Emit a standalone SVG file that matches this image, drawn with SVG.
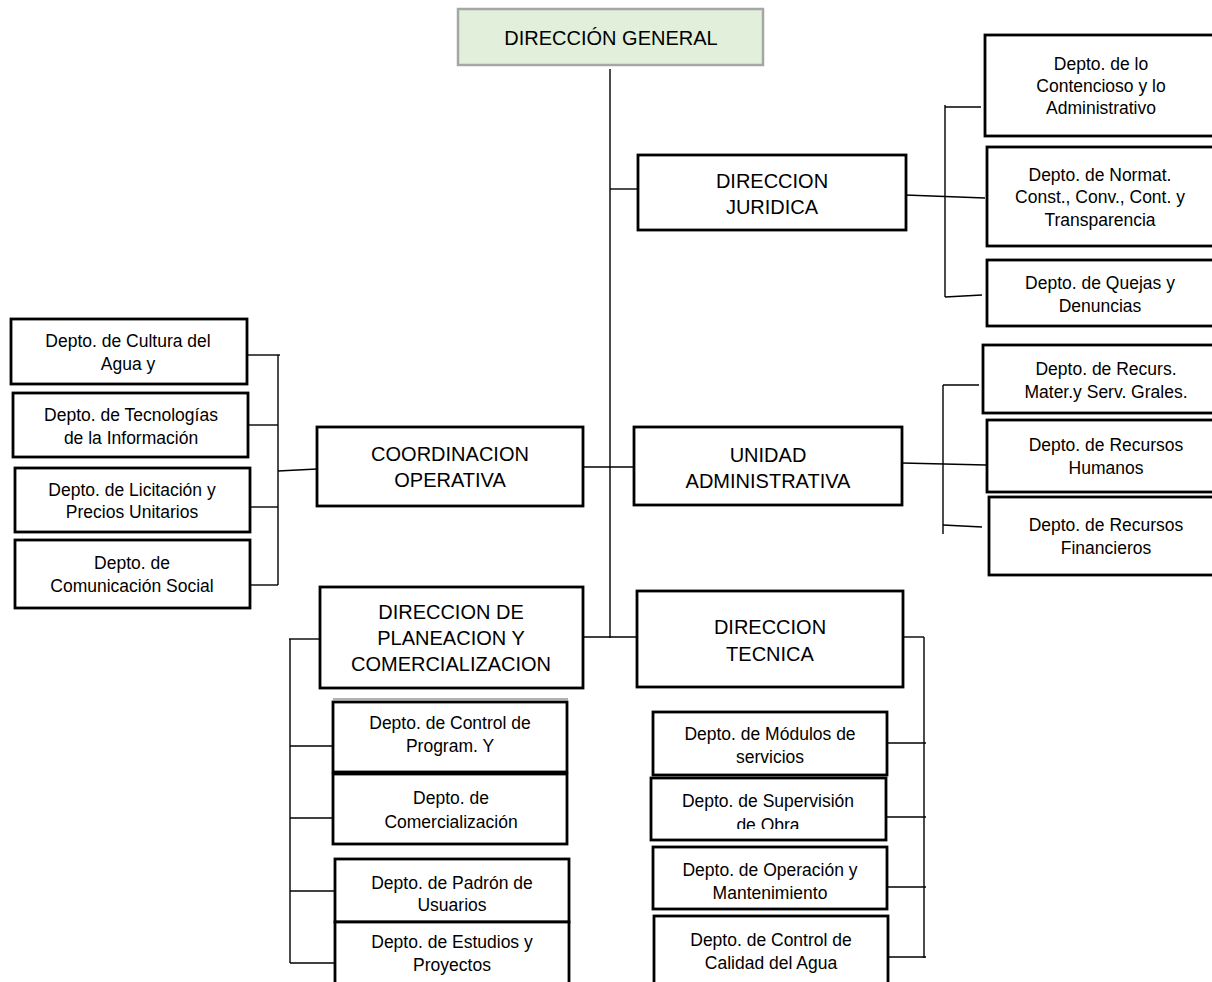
<svg xmlns="http://www.w3.org/2000/svg" width="1212" height="982" viewBox="0 0 1212 982">
<style>
.b{fill:#fff;stroke:#000;stroke-width:2.8}
.g{fill:#e2efda;stroke:#a6a6a6;stroke-width:2.5}
.t{font-family:"Liberation Sans",Arial,sans-serif;font-size:17.5px;fill:#000;text-anchor:middle}
.h{font-family:"Liberation Sans",Arial,sans-serif;font-size:20px;fill:#000;text-anchor:middle}
.c line{stroke:#000;stroke-width:1.4}
</style>
<defs>
<clipPath id="clipSup"><rect x="651" y="778" width="236" height="51"/></clipPath>
</defs>
<rect width="1212" height="982" fill="#fff"/>
<g class="c" id="connectors">
<line x1="610" y1="69" x2="610" y2="638"/>
<line x1="610" y1="189" x2="638" y2="189"/>
<line x1="582" y1="467" x2="634" y2="467"/>
<line x1="582" y1="637" x2="637" y2="637"/>
<line x1="905" y1="195" x2="985" y2="198"/>
<line x1="945" y1="105" x2="945" y2="297"/>
<line x1="945" y1="107" x2="981" y2="107"/>
<line x1="945" y1="297" x2="982" y2="295"/>
<line x1="902" y1="463" x2="986" y2="465"/>
<line x1="943" y1="385" x2="943" y2="534"/>
<line x1="943" y1="385" x2="979" y2="385"/>
<line x1="943" y1="525" x2="982" y2="527"/>
<line x1="903" y1="637" x2="924" y2="637"/>
<line x1="924" y1="637" x2="924" y2="958"/>
<line x1="888" y1="743" x2="926" y2="743"/>
<line x1="887" y1="817" x2="926" y2="817"/>
<line x1="888" y1="887" x2="926" y2="887"/>
<line x1="888" y1="957" x2="926" y2="957"/>
<line x1="320" y1="639" x2="289" y2="639"/>
<line x1="290" y1="639" x2="290" y2="963"/>
<line x1="290" y1="746" x2="333" y2="746"/>
<line x1="290" y1="818" x2="333" y2="818"/>
<line x1="290" y1="891" x2="338" y2="891"/>
<line x1="290" y1="963" x2="335" y2="963"/>
<line x1="317" y1="469" x2="278" y2="471"/>
<line x1="278" y1="355" x2="278" y2="585"/>
<line x1="248" y1="355" x2="280" y2="355"/>
<line x1="248" y1="425" x2="278" y2="425"/>
<line x1="250" y1="507" x2="278" y2="507"/>
<line x1="250" y1="585" x2="278" y2="585"/>
<line x1="333" y1="699" x2="568" y2="699" style="stroke:#999;stroke-width:1.5"/>
</g>
<g id="dir-general"><rect class="g" x="458" y="9" width="305" height="56"/><text class="h" x="611" y="45">DIRECCIÓN GENERAL</text></g>
<g id="dir-juridica"><rect class="b" x="638" y="155" width="268" height="75"/><text class="h" x="772" y="188">DIRECCION</text><text class="h" x="772" y="214">JURIDICA</text></g>
<g id="contencioso"><rect class="b" x="985" y="35" width="240" height="101"/><text class="t" x="1101" y="70">Depto. de lo</text><text class="t" x="1101" y="92">Contencioso y lo</text><text class="t" x="1101" y="114">Administrativo</text></g>
<g id="normat"><rect class="b" x="987" y="147" width="240" height="99"/><text class="t" x="1100" y="181">Depto. de Normat.</text><text class="t" x="1100" y="203">Const., Conv., Cont. y</text><text class="t" x="1100" y="226">Transparencia</text></g>
<g id="quejas"><rect class="b" x="987" y="260" width="240" height="66"/><text class="t" x="1100" y="289">Depto. de Quejas y</text><text class="t" x="1100" y="312">Denuncias</text></g>
<g id="unidad-admin"><rect class="b" x="634" y="427" width="268" height="78"/><text class="h" x="768" y="462">UNIDAD</text><text class="h" x="768" y="488">ADMINISTRATIVA</text></g>
<g id="recurs-mater"><rect class="b" x="983" y="345" width="240" height="68"/><text class="t" x="1106" y="375">Depto. de Recurs.</text><text class="t" x="1106" y="398">Mater.y Serv. Grales.</text></g>
<g id="rh"><rect class="b" x="987" y="420" width="240" height="72"/><text class="t" x="1106" y="451">Depto. de Recursos</text><text class="t" x="1106" y="474">Humanos</text></g>
<g id="rf"><rect class="b" x="989" y="497" width="240" height="78"/><text class="t" x="1106" y="531">Depto. de Recursos</text><text class="t" x="1106" y="554">Financieros</text></g>
<g id="coord-op"><rect class="b" x="317" y="427" width="266" height="79"/><text class="h" x="450" y="461">COORDINACION</text><text class="h" x="450" y="487">OPERATIVA</text></g>
<g id="cultura"><rect class="b" x="11" y="319" width="236" height="65"/><text class="t" x="128" y="347">Depto. de Cultura del</text><text class="t" x="128" y="370">Agua y</text></g>
<g id="tecnologias"><rect class="b" x="13" y="393" width="235" height="64"/><text class="t" x="131" y="421">Depto. de Tecnologías</text><text class="t" x="131" y="444">de la Información</text></g>
<g id="licitacion"><rect class="b" x="15" y="468" width="235" height="64"/><text class="t" x="132" y="496">Depto. de Licitación y</text><text class="t" x="132" y="518">Precios Unitarios</text></g>
<g id="comunicacion"><rect class="b" x="15" y="540" width="235" height="68"/><text class="t" x="132" y="569">Depto. de</text><text class="t" x="132" y="592">Comunicación Social</text></g>
<g id="dir-planeacion"><rect class="b" x="320" y="587" width="263" height="101"/><text class="h" x="451" y="619">DIRECCION DE</text><text class="h" x="451" y="645">PLANEACION Y</text><text class="h" x="451" y="671">COMERCIALIZACION</text></g>
<g id="control-program"><rect class="b" x="333" y="702" width="234" height="70"/><text class="t" x="450" y="729">Depto. de Control de</text><text class="t" x="450" y="752">Program. Y</text></g>
<g id="comercializacion"><rect class="b" x="333" y="774" width="234" height="70"/><text class="t" x="451" y="804">Depto. de</text><text class="t" x="451" y="828">Comercialización</text></g>
<g id="padron"><rect class="b" x="335" y="859" width="234" height="63"/><text class="t" x="452" y="889">Depto. de Padrón de</text><text class="t" x="452" y="911">Usuarios</text></g>
<g id="estudios"><rect class="b" x="335" y="922" width="234" height="80"/><text class="t" x="452" y="948">Depto. de Estudios y</text><text class="t" x="452" y="971">Proyectos</text></g>
<g id="dir-tecnica"><rect class="b" x="637" y="591" width="266" height="96"/><text class="h" x="770" y="634">DIRECCION</text><text class="h" x="770" y="661">TECNICA</text></g>
<g id="modulos"><rect class="b" x="653" y="712" width="234" height="63"/><text class="t" x="770" y="740">Depto. de Módulos de</text><text class="t" x="770" y="763">servicios</text></g>
<g id="supervision"><rect class="b" x="651" y="778" width="235" height="62"/><text class="t" x="768" y="807">Depto. de Supervisión</text><text class="t" x="768" y="831" clip-path="url(#clipSup)">de Obra</text></g>
<g id="operacion"><rect class="b" x="653" y="847" width="234" height="62"/><text class="t" x="770" y="876">Depto. de Operación y</text><text class="t" x="770" y="899">Mantenimiento</text></g>
<g id="calidad"><rect class="b" x="654" y="916" width="234" height="86"/><text class="t" x="771" y="946">Depto. de Control de</text><text class="t" x="771" y="969">Calidad del Agua</text></g>
</svg>
